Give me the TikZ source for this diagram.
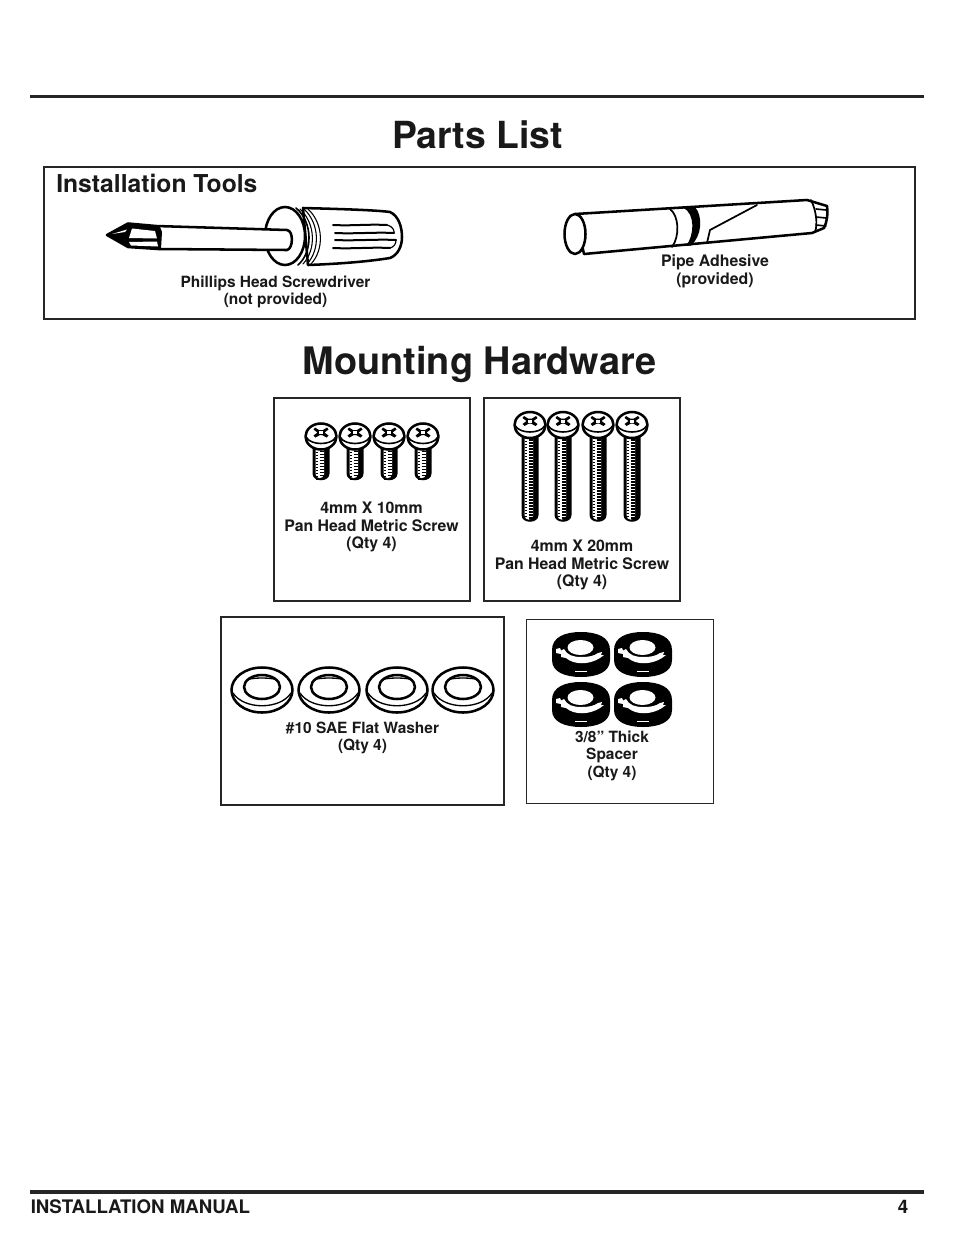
\documentclass[tikz,border=0pt]{standalone}
\usepackage{fontspec}
\setmainfont{TeX Gyre Heros}
\usetikzlibrary{positioning}
\tikzstyle{rule} = [line width=2.4pt,black!85]
\tikzstyle{partbox} = [rectangle, draw=black!85, line width=1.1pt, inner sep=0pt]
\tikzstyle{title} = [font=\bfseries\fontsize{28}{30}\selectfont, text=black!90, inner sep=0pt, anchor=base]
\tikzstyle{partlabel} = [font=\bfseries\fontsize{11.9}{13.1}\selectfont, align=center, text=black!90, inner sep=0pt]
\tikzstyle{narrowlabel} = [partlabel, font=\bfseries\fontsize{11.6}{13.1}\selectfont]
\tikzstyle{footer} = [font=\bfseries\fontsize{14}{15}\selectfont, text=black!90, inner sep=0pt]
\tikzstyle{ink} = [line width=1.9pt, draw=black, line join=round, line cap=round]
\tikzstyle{thin ink} = [line width=.8pt, draw=black, line cap=round]
% screw: head centre at the origin, #3 = distance to the tip
\newcommand{\screwpart}[3]{
\begin{scope}[shift={(#1,#2)}]
\fill[black] (-8.5,8) -- (-8.5,#3-8) .. controls (-8.5,#3+1) and (8.5,#3+1) .. (8.5,#3-8) -- (8.5,8) -- cycle;
\fill[white] (-5.5,12) -- (-5.5,#3-8) .. controls (-5.5,#3-2) and (2,#3-2) .. (3,#3-7) -- (3,12) -- cycle;
\foreach \yy in {14,17,...,#3} {
  \ifdim \yy pt < #3 pt \relax
  \draw[line width=.8pt] (-1.5,\yy-2) -- (3,\yy-2);
  \draw[line width=.4pt] (-5.5,\yy-1) -- (-3.5,\yy-1);
  \fi
}
\filldraw[fill=white, ink] (0,0) ellipse (15.5 and 13);
\draw[ink, line width=1.2pt] (-14.5,1) .. controls (-10,9) and (10,9) .. (14.5,1);
\fill[black] (-6,-9) -- (-2,-6.5) -- (2,-6.5) -- (6,-9) -- (7.5,-7) -- (3.5,-4) -- (7.5,-1) -- (5.5,1) -- (1,-1.5) -- (-1,-1.5) -- (-5.5,1) -- (-7.5,-1) -- (-3.5,-4) -- (-7.5,-7) -- cycle;
\fill[white] (-2,-5.5) rectangle (2,-2.5);
\end{scope}
}
\newcommand{\washerpart}[2]{
\begin{scope}[shift={(#1,#2)}]
\filldraw[fill=white, ink] (0,0) ellipse (30.5 and 22.5);
\draw[ink, line width=1pt] (-29,3) .. controls (-18,20) and (18,20) .. (29,3);
\filldraw[fill=white, ink] (0,-3) ellipse (18 and 12);
\draw[ink, line width=1pt] (-14,-10.5) .. controls (-8,-12.5) and (8,-12.5) .. (14,-10.5);
\end{scope}
}
\newcommand{\spacerpart}[2]{
\begin{scope}[shift={(#1,#2)}]
\fill[black] (-29,-4) .. controls (-29,-17) and (-16,-22) .. (0,-22) .. controls (16,-22) and (29,-17) .. (29,-4) -- (29,6) .. controls (29,18) and (16,23) .. (0,23) .. controls (-16,23) and (-29,18) .. (-29,6) -- cycle;
\fill[white] (-.5,-6.5) ellipse (13 and 7.5);
\fill[white] (-25,-5) -- (-21,-6) -- (-20,-3.5) -- (-17,-5) .. controls (-14,1) and (-8,3) .. (0,3) .. controls (8,3) and (13,2) .. (17,-1) -- (21,-2) -- (20,1) -- (23,1) -- (19,4) .. controls (8,11) and (-7,11) .. (-15,4) -- (-20,3) -- (-20,0) -- (-25,-1) -- cycle;
\draw[white, line width=.5pt] (-6,17) -- (6,17);
\end{scope}
}
\begin{document}
\begin{tikzpicture}[x=.75pt,y=-.75pt]
\useasboundingbox (0,0) rectangle (954,1235);
\fill[white] (0,0) rectangle (954,1235);
\coordinate (ruletopl) at (30,96.5);
\coordinate (ruletopr) at (924,96.5);
\coordinate (rulebotl) at (30,1192);
\coordinate (rulebotr) at (924,1192);
\draw [rule] (ruletopl) -- (ruletopr);
\draw [rule] (rulebotl) -- (rulebotr);

\node (parts) [title] at (477.5,148) {Parts List};
\node (mounting) [title, font=\bfseries\fontsize{28.4}{30}\selectfont] at (479.5,374) {Mounting Hardware};

% boxes
\node (toolsbox) [partbox, minimum width=653pt, minimum height=114pt] at (479.5,243) {};
\node (screwbox) [partbox, minimum width=147pt, minimum height=152pt] at (372,499.5) {};
\node (longbox) [partbox, minimum width=147pt, minimum height=152pt] at (582,499.5) {};
\node (washerbox) [partbox, minimum width=212.5pt, minimum height=141pt] at (362.5,711) {};
\node (spacerbox) [partbox, line width=.75pt, minimum width=140pt, minimum height=138pt] at (620,711) {};

\node (tools) [partlabel, font=\bfseries\fontsize{18.5}{20}\selectfont, anchor=west] at (56,183) {Installation Tools};

% screwdriver
\filldraw[fill=white, ink] (303,208) .. controls (340,209) and (375,210) .. (390,212) .. controls (399,216) and (402,228) .. (402,237) .. controls (402,246) and (398,255) .. (390,258) .. controls (365,262) and (335,264) .. (308,265) -- cycle;
\filldraw[fill=white, ink] (285,236) ellipse (20 and 29);
\foreach \ribl/\ribr/\riby in {333/387/225, 335/394/233, 335/396/240, 333/390/248} {
  \draw[ink, line width=1.5pt] (\ribl,\riby) .. controls (\ribl+20,\riby+1) and (\ribr-20,\riby-1) .. (\ribr,\riby);
}
\draw[ink, line width=.9pt] (387,225) .. controls (394,227) and (394,231) .. (394,233);
\draw[ink, line width=.9pt] (396,240) .. controls (396,244) and (394,247) .. (390,248);
\draw[thin ink] (300,209) .. controls (316,224) and (316,250) .. (303,264);
\draw[thin ink] (304,209) .. controls (320,224) and (320,250) .. (307,264);
\draw[thin ink] (308,209) .. controls (324,224) and (324,250) .. (311,264);
\draw[ink, line width=1.2pt] (296,208) .. controls (313,222) and (313,252) .. (298,265);
\filldraw[fill=white, ink] (128,223.5) -- (156,226) -- (287,230) .. controls (294,231) and (293,249) .. (287,250) -- (158,249) -- (128,247) -- (107,235) -- cycle;
\fill[black] (107,235) -- (128,223.5) -- (160,227) -- (162,232) -- (161,249) -- (128,247) -- cycle;
\fill[white] (132,228.5) -- (155,231) -- (157,238.5) -- (129,238) -- cycle;
\fill[white] (129,242) -- (157,241.5) -- (158,246.5) -- (131,245.5) -- cycle;
\fill[white] (112,234) -- (127,229.5) -- (125,232) -- cycle;

% pipe adhesive
\filldraw[fill=white, ink] (575,214) -- (807,200) -- (827,206) .. controls (828,214) and (827,222) .. (824,228) -- (812,233) -- (584,254) -- cycle;
\filldraw[fill=white, ink] (575,234) ellipse (10.5 and 20);
\fill[black] (683,207.5) .. controls (696,214) and (694,236) .. (686,246) -- (691,245.5) .. controls (702,236) and (703,216) .. (695,207) -- cycle;
\draw[ink, line width=1.3pt] (670,209) .. controls (679,216) and (680,236) .. (672,247);
\draw[ink, line width=1.3pt] (757,205) -- (710,230) -- (707,243);
\draw[ink, line width=1.3pt] (811,200) .. controls (816,210) and (818,224) .. (815,232);
\foreach \capy in {209,217,225} {
  \draw[ink, line width=1.2pt] (816,\capy) -- (826,\capy+1);
}

\node (driverlabel) [narrowlabel] at (275.5,292) {Phillips Head Screwdriver\\(not provided)};
\node (adhesivelabel) [partlabel] at (715,271.5) {Pipe Adhesive\\(provided)};

% screws
\foreach \sx in {321,355,389,423} {
  \screwpart{\sx}{436.5}{45}
}
\foreach \sx in {530,563,598,632} {
  \screwpart{\sx}{425}{98}
}
\node (screwlabel) [partlabel] at (371.5,527) {4mm X 10mm\\Pan Head Metric Screw\\(Qty 4)};
\node (longlabel) [partlabel] at (582,565) {4mm X 20mm\\Pan Head Metric Screw\\(Qty 4)};

% washers
\foreach \wx in {262,329,397,463} {
  \washerpart{\wx}{690}
}
\node (washerlabel) [narrowlabel] at (362.5,738) {\#10 SAE Flat Washer\\(Qty 4)};

% spacers
\foreach \px/\py in {581/654,643/654,581/704,643/704} {
  \spacerpart{\px}{\py}
}
\node (spacerlabel) [narrowlabel] at (612,755.5) {3/8” Thick\\Spacer\\(Qty 4)};

\node (manual) [footer, anchor=west] at (30.5,1207) {INSTALLATION MANUAL};
\node (pagenum) [footer] at (903,1207) {4};
\end{tikzpicture}
\end{document}
